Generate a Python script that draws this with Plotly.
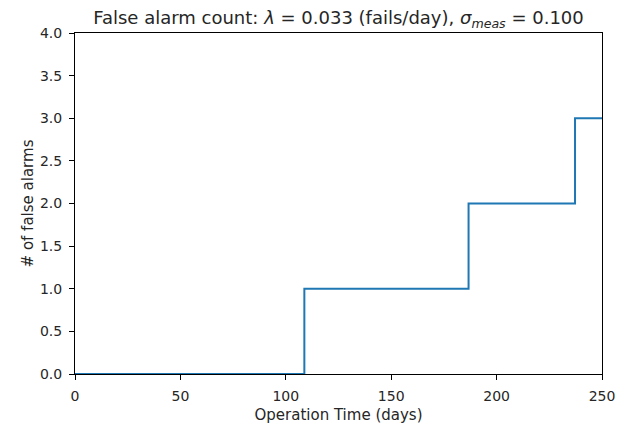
import plotly.graph_objects as go

# Data
alarm_days = [0, 108.8, 186.7, 237.2, 250]
alarm_counts = [0, 1, 2, 3, 3]
x_ticks = [0, 50, 100, 150, 200, 250]
y_ticks = [0.0, 0.5, 1.0, 1.5, 2.0, 2.5, 3.0, 3.5, 4.0]

fig = go.Figure()
fig.add_trace(go.Scatter(
    x=alarm_days, y=alarm_counts, mode="lines",
    line=dict(color="#1f77b4", width=2, shape="hv"),
    showlegend=False,
))

font_family = "DejaVu Sans"
text_color = "#262626"
axis_common = dict(
    showgrid=False, zeroline=False, showline=True, mirror=True,
    linecolor="black", linewidth=1, ticks="outside", ticklen=5,
    tickcolor="black", tickwidth=1,
    tickfont=dict(family=font_family, size=14, color=text_color),
)

fig.update_layout(
    width=626, height=427,
    margin=dict(l=67, r=32, t=25, b=61),
    paper_bgcolor="white", plot_bgcolor="white",
    font=dict(family=font_family, color=text_color),
    title=dict(
        text="False alarm count: <i>λ</i> = 0.033 (fails/day), <i>σ</i><sub><i>meas</i></sub> = 0.100",
        x=0.5, xanchor="center", xref="paper",
        y=0.992, yanchor="top", yref="container",
        font=dict(family=font_family, size=18, color=text_color),
    ),
    xaxis=dict(
        range=[0, 250], tickvals=x_ticks, ticktext=[str(v) for v in x_ticks],
        ticklabelstandoff=4,
        title=dict(text="Operation Time (days)", standoff=6,
                   font=dict(family=font_family, size=15, color=text_color)),
        **axis_common,
    ),
    yaxis=dict(
        range=[0, 4], tickvals=y_ticks, ticktext=[f"{v:.1f}" for v in y_ticks],
        ticklabelstandoff=4,
        title=dict(text="# of false alarms", standoff=2,
                   font=dict(family=font_family, size=15, color=text_color)),
        **axis_common,
    ),
)

fig.write_html("out.html")
